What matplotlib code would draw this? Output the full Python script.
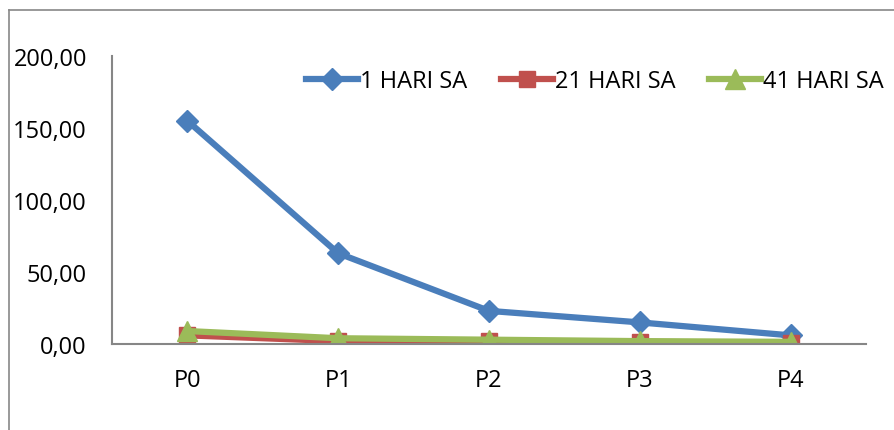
import matplotlib.pyplot as plt
from matplotlib.lines import Line2D

categories = ["P0", "P1", "P2", "P3", "P4"]
hari_1 = [155.0, 63.0, 23.0, 15.0, 6.0]
hari_21 = [6.0, 2.0, 2.0, 1.5, 0.8]
hari_41 = [9.0, 4.0, 3.0, 2.0, 1.5]
y_ticks = [0, 50, 100, 150, 200]

plt.rcParams['font.family'] = ['Open Sans', 'DejaVu Sans']

fig = plt.figure(figsize=(8.95, 4.31), dpi=100)
ax = fig.add_axes([112 / 895, 1 - 345 / 431, (866 - 112) / 895, (345 - 57) / 431])

x = range(len(categories))
ax.plot(x, hari_1, color='#4A7EBB', lw=4.5, marker='D', ms=11, label='1 HARI SA')
ax.plot(x, hari_21, color='#C0504D', lw=4.5, marker='s', ms=12, label='21 HARI SA')
ax.plot(x, hari_41, color='#9BBB59', lw=4.5, marker='^', ms=14, label='41 HARI SA')

ax.set_xlim(-0.5, len(categories) - 0.5)
ax.set_ylim(0, 200)
ax.set_xticks(list(x))
ax.set_xticklabels(categories)
ax.set_yticks(y_ticks)
ax.set_yticklabels([f"{v:.2f}".replace('.', ',') for v in y_ticks])
ax.tick_params(length=0, labelsize=17)
ax.tick_params(axis='y', pad=18)
ax.tick_params(axis='x', pad=17)

for s in ['top', 'right']:
    ax.spines[s].set_visible(False)
for s in ['left', 'bottom']:
    ax.spines[s].set_color('#868686')
    ax.spines[s].set_linewidth(1.5)

ax.legend(loc='center', bbox_to_anchor=(595 / 895, 1 - 82 / 431),
          bbox_transform=fig.transFigure, ncol=3, frameon=False,
          fontsize=17, handlelength=2.2, handletextpad=0.1, columnspacing=1.4)

# outer chart border (only top and left visible in crop)
fig.add_artist(Line2D([9 / 895, 1.0], [1 - 11 / 431] * 2, color='#888888', lw=1.2))
fig.add_artist(Line2D([9 / 895] * 2, [0.0, 1 - 11 / 431], color='#888888', lw=1.2))

fig.savefig('out.png', dpi=100)
